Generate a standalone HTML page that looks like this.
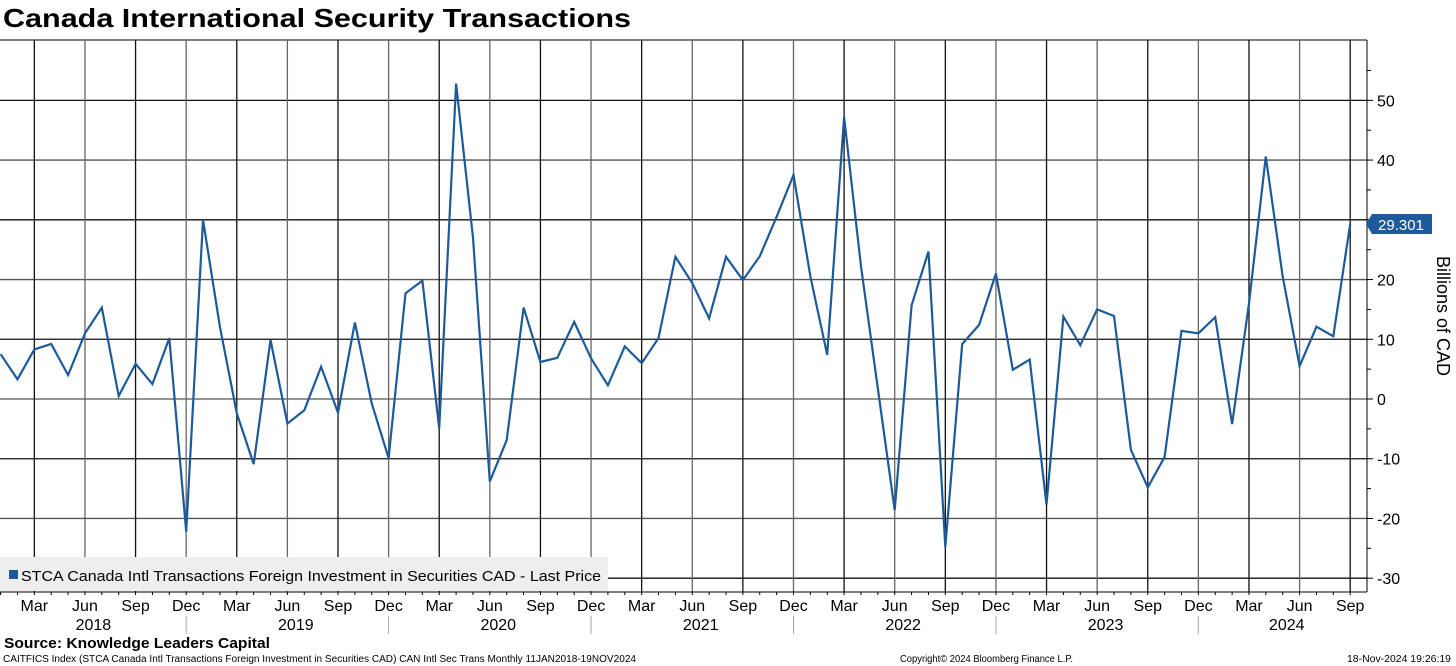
<!DOCTYPE html>
<html><head><meta charset="utf-8"><style>
html,body{margin:0;padding:0;background:#fff;}
svg{display:block;font-family:"Liberation Sans",sans-serif;}
</style></head><body>
<svg id="chart" width="1456" height="666" viewBox="0 0 1456 666" xmlns="http://www.w3.org/2000/svg">
<text x="3" y="27" font-size="26" font-weight="bold" textLength="628" lengthAdjust="spacingAndGlyphs">Canada International Security Transactions</text>
<g id="grid"></g>
<g id="axes"></g>
<rect x="0" y="557" width="608" height="34" fill="#eeeeee"/>
<rect x="9" y="570" width="9" height="9" fill="#1d5a9a"/>
<text x="21" y="581" font-size="14.5" textLength="580" lengthAdjust="spacingAndGlyphs">STCA Canada Intl Transactions Foreign Investment in Securities CAD - Last Price</text>
<g id="series"></g>
<g>
<polygon points="1366,224 1372,214 1432,214 1432,234 1372,234" fill="#1d5a9a"/>
<text x="1401" y="230" font-size="15" fill="#fff" text-anchor="middle">29.301</text>
</g>
<text transform="translate(1437,316) rotate(90)" font-size="18" text-anchor="middle">Billions of CAD</text>
<text x="4" y="648" font-size="15" font-weight="bold" textLength="266" lengthAdjust="spacingAndGlyphs">Source: Knowledge Leaders Capital</text>
<text x="3" y="662" font-size="10" textLength="633" lengthAdjust="spacingAndGlyphs">CAITFICS Index (STCA Canada Intl Transactions Foreign Investment in Securities CAD) CAN Intl Sec Trans  Monthly 11JAN2018-19NOV2024</text>
<text x="900" y="662" font-size="10" textLength="173" lengthAdjust="spacingAndGlyphs">Copyright© 2024 Bloomberg Finance L.P.</text>
<text x="1347" y="662" font-size="10" textLength="104" lengthAdjust="spacingAndGlyphs">18-Nov-2024 19:26:19</text>
</svg>
<script>
const values = [7.5,3.3,8.3,9.2,4.0,11.0,15.3,0.5,5.9,2.5,10.2,-22.2,30.0,12.1,-2.4,-10.9,9.9,-4.1,-1.9,5.4,-2.3,12.8,-0.7,-9.9,17.7,19.8,-4.9,52.8,27.0,-13.8,-6.9,15.3,6.2,6.9,12.9,6.8,2.3,8.8,6.0,10.2,23.8,19.4,13.5,23.8,19.9,23.9,30.5,37.5,20.5,7.4,47.2,22.2,1.8,-18.6,15.7,24.7,-24.8,9.2,12.4,21.0,4.9,6.6,-17.7,13.8,9.0,15.0,13.9,-8.5,-14.8,-9.7,11.4,11.0,13.7,-4.2,16.0,40.6,20.5,5.5,12.1,10.5,29.301];
const yTicks = [50,40,30,20,10,0,-10,-20,-30];
const monthNames = ["Mar","Jun","Sep","Dec"];
const years = ["2018","2019","2020","2021","2022","2023","2024"];
const NS="http://www.w3.org/2000/svg";
const X0=0.6, DX=16.87, Y0=399, DY=5.973, RIGHT=1367, TOP=40, BOT=592;
function xs(i){return X0+DX*i;}
function ys(v){return Y0-DY*v;}
function mk(tag,attrs,parent){const e=document.createElementNS(NS,tag);for(const k in attrs)e.setAttribute(k,attrs[k]);parent.appendChild(e);return e;}
const grid=document.getElementById('grid'), axes=document.getElementById('axes'), series=document.getElementById('series');
mk('line',{x1:0,y1:TOP,x2:RIGHT,y2:TOP,stroke:'#000','stroke-width':1},grid);
yTicks.forEach(v=>{
  const l=mk('line',{x1:0,y1:ys(v),x2:RIGHT,y2:ys(v),stroke:(v%20===0?'#555':'#111'),'stroke-width':1.3},grid);
  
  
  const t=mk('text',{x:RIGHT+10,y:ys(v)+6,'font-size':16},axes);
  
  
  t.textContent=String(v);
});
for(let v=-30;v<=55;v+=5){mk('line',{x1:RIGHT,y1:ys(v),x2:RIGHT+(v%10===0?6:4),y2:ys(v),stroke:'#000'},axes);}
mk('line',{x1:RIGHT,y1:TOP,x2:RIGHT,y2:BOT,stroke:'#000','stroke-width':1},axes);
mk('line',{x1:0,y1:BOT,x2:RIGHT,y2:BOT,stroke:'#000','stroke-width':1},axes);
const nMonths=values.length;
for(let i=0;i<nMonths;i++){
  mk('line',{x1:xs(i),y1:BOT,x2:xs(i),y2:BOT+3,stroke:'#000'},axes);
  const m=i%12;
  if(m===2||m===5||m===8||m===11){
    const g=mk('line',{x1:xs(i),y1:TOP,x2:xs(i),y2:BOT,stroke:(m===11||m===5?'#666':'#111'),'stroke-width':1.3},grid);
    
    
    const t=mk('text',{x:xs(i),y:BOT+19,'font-size':16,'text-anchor':'middle'},axes);
    
    
    t.textContent=monthNames[(m-2)/3];
  }
}
years.forEach((yr,k)=>{
  const s=xs(12*k), e=Math.min(xs(12*k+11),xs(nMonths-1)+8);
  const t=mk('text',{x:(s+e)/2,y:BOT+38,'font-size':16,'text-anchor':'middle'},axes);
  
  
  t.textContent=yr;
  if(k>0){mk('line',{x1:xs(12*k-1),y1:BOT+24,x2:xs(12*k-1),y2:BOT+42,stroke:'#aaa'},axes);}
});
const pts=values.map((v,i)=>xs(i).toFixed(1)+','+ys(v).toFixed(1)).join(' ');
const pl=mk('polyline',{points:pts,fill:'none',stroke:'#1d5a9a','stroke-width':2.2,'stroke-linejoin':'miter'},series);


</script>
</body></html>
